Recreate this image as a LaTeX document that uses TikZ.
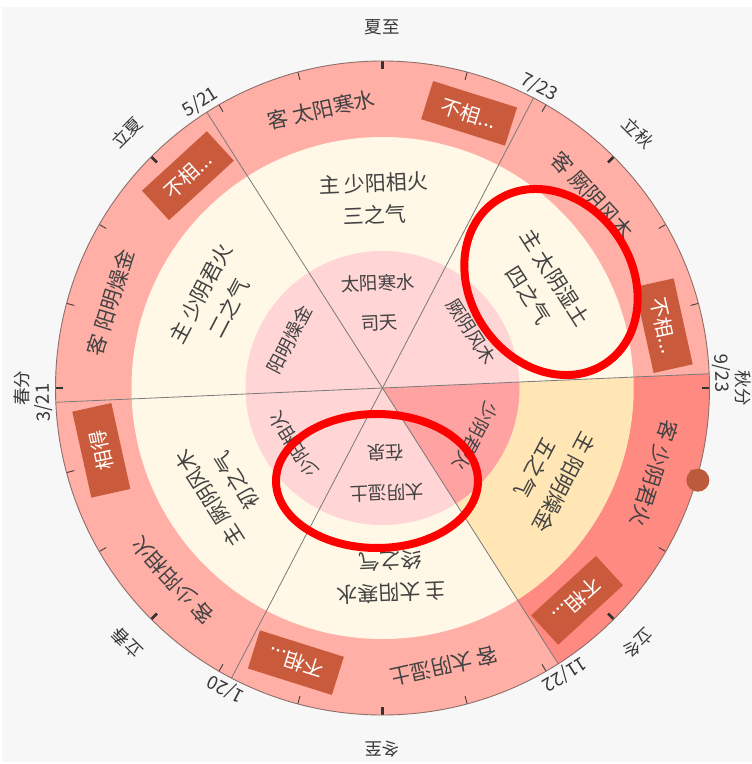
\documentclass[tikz,border=0pt]{standalone}
\usepackage{fontspec}
\setmainfont{Noto Sans CJK SC}
\definecolor{bg}{HTML}{F8F7F7}
\definecolor{outerring}{HTML}{FFAFA6}
\definecolor{outerhl}{HTML}{FF8A82}
\definecolor{innerring}{HTML}{FFF8E6}
\definecolor{innerhl}{HTML}{FFE6B4}
\definecolor{centerdisk}{HTML}{FFD5D5}
\definecolor{centerhl}{HTML}{FFA2A2}
\definecolor{boxc}{HTML}{C95B3C}
\definecolor{txt}{HTML}{424242}
\definecolor{dotc}{HTML}{BC5B3B}
\definecolor{linec}{HTML}{7A7A7A}
\definecolor{borderc}{HTML}{8E6E69}
\definecolor{markred}{HTML}{FF0000}
\tikzset{
  outtxt/.style={text=txt, font=\fontsize{21}{25}\selectfont, inner sep=0pt},
  intxt/.style={text=txt, font=\fontsize{21}{32}\selectfont, align=center, inner sep=0pt},
  ctrtxt/.style={text=txt, font=\fontsize{18.5}{22}\selectfont, inner sep=0pt},
  boxst/.style={fill=boxc, text=white, font=\fontsize{20}{24}\selectfont, minimum width=88pt, minimum height=40pt, inner sep=0pt},
  termlbl/.style={text=txt!85!black, font=\fontsize{17.5}{20}\selectfont, inner sep=0pt},
  datelbl/.style={text=txt!85!black, font=\fontsize{18.5}{21}\selectfont, inner sep=0pt},
  sectorline/.style={draw=linec, line width=0.8pt},
  thintick/.style={draw=black!75, line width=0.9pt},
  boldtick/.style={draw=black!80, line width=2.6pt},
  redmark/.style={draw=markred, line width=8pt},
}
\newcommand{\qisector}[7]{%
  \node[outtxt, rotate=#2-80] (g#1) at (#2+10:285) {#3};
  \node[boxst, rotate=#2-110] (b#1) at (#2-20:288) {#4};
  \node[intxt, rotate=#2-90] (p#1) at (#2:189) {#5\\#6};
  \node[ctrtxt, rotate=#2-90] (c#1) at (#2:105) {#7};
}
\begin{document}
\begin{tikzpicture}[x=1pt,y=1pt]
\useasboundingbox (-382.5,-376) rectangle (369.5,388);
\fill[white] (-382.5,-376) rectangle (369.5,388);
\fill[bg] (-380.5,-374) rectangle (369.5,381);
\coordinate (o) at (0,0);
% rings
\fill[outerring] (o) circle (327);
\fill[outerhl] (o) -- (302.5:327) arc (302.5:362.5:327) -- cycle;
\fill[innerring] (o) circle (251);
\fill[innerhl] (o) -- (302.5:251) arc (302.5:362.5:251) -- cycle;
\fill[centerdisk] (o) circle (137);
\fill[centerhl] (o) -- (302.5:137) arc (302.5:362.5:137) -- cycle;
% sector lines
\foreach \a in {2.5,62.5,122.5,182.5,242.5,302.5}
  \draw[sectorline] (o) -- (\a:327);
% ticks
\foreach \a in {15,30,60,75,105,120,150,165,195,210,240,255,285,300,330,345}
  \draw[thintick] (\a:327) -- (\a:319);
\foreach \a in {0,45,90,135,180,225,270,315}
  \draw[boldtick] (\a:327) -- (\a:319);
\draw[draw=borderc, line width=0.9pt] (o) circle (327);
% solar term labels
\node[termlbl, rotate=0]    (t90)  at (90:361)  {夏至};
\node[termlbl, rotate=-45]  (t45)  at (45:361)  {立秋};
\node[termlbl, rotate=-90]  (t0)   at (0:361)   {秋分};
\node[termlbl, rotate=-135] (t315) at (-45:361) {立冬};
\node[termlbl, rotate=180]  (t270) at (-90:361) {冬至};
\node[termlbl, rotate=135]  (t225) at (225:361) {立春};
\node[termlbl, rotate=90]   (t180) at (180:361) {春分};
\node[termlbl, rotate=45]   (t135) at (135:361) {立夏};
% date labels
\node[datelbl, rotate=-87.5] (d1) at (2.5:339)   {9/23};
\node[datelbl, rotate=-27.5] (d2) at (62.5:339)  {7/23};
\node[datelbl, rotate=32.5]  (d3) at (122.5:339) {5/21};
\node[datelbl, rotate=92.5]  (d4) at (182.5:339) {3/21};
\node[datelbl, rotate=152.5] (d5) at (242.5:339) {1/20};
\node[datelbl, rotate=212.5] (d6) at (302.5:339) {11/22};
% sectors
\qisector{1}{32.5}{客 厥阴风木}{不相...}{主 太阴湿土}{四之气}{厥阴风木}
\qisector{2}{92.5}{客 太阳寒水}{不相...}{主 少阳相火}{三之气}{太阳寒水}
\qisector{3}{152.5}{客 阳明燥金}{不相...}{主 少阴君火}{二之气}{阳明燥金}
\qisector{4}{212.5}{客 少阳相火}{相得}{主 厥阴风木}{初之气}{少阳相火}
\qisector{5}{272.5}{客 太阴湿土}{不相...}{主 太阳寒水}{终之气}{太阴湿土}
\qisector{6}{332.5}{客 少阴君火}{不相...}{主 阳明燥金}{五之气}{少阴君火}
\node[ctrtxt, rotate=2.5]   (st) at (92.5:65)  {司天};
\node[ctrtxt, rotate=182.5] (zq) at (272.5:65) {在泉};
% current position dot
\fill[dotc] (-16.3:328.6) circle (11.5);
% red annotation ellipses
\begin{scope}[shift={(168.5,106)}, rotate=-56]
  \draw[redmark] (0,0) ellipse [x radius=98, y radius=81];
\end{scope}
\begin{scope}[shift={(-5.5,-93)}]
  \draw[redmark] (0,0) ellipse [x radius=101, y radius=67];
\end{scope}
\end{tikzpicture}
\end{document}
